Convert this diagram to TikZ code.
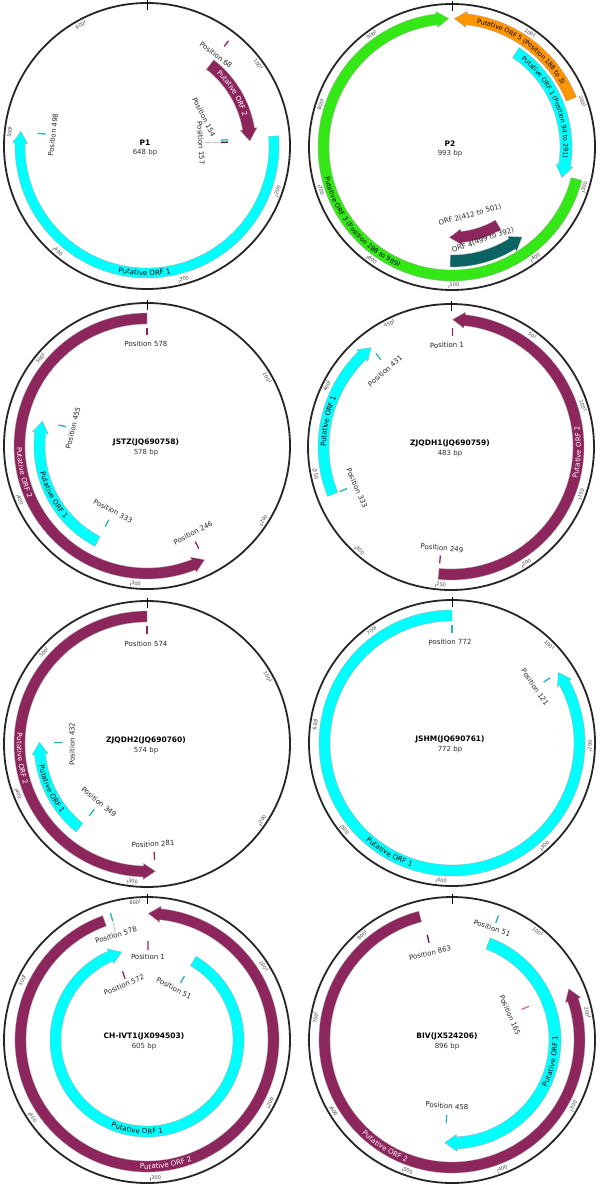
\documentclass[tikz,border=0pt]{standalone}
\usepackage{fontspec}
\setmainfont{DejaVu Sans}
\usetikzlibrary{decorations.text}
\definecolor{orfmag}{RGB}{142,38,94}
\definecolor{orfcyan}{RGB}{0,255,255}
\definecolor{orfgreen}{RGB}{51,232,20}
\definecolor{orforange}{RGB}{255,150,0}
\definecolor{orfteal}{RGB}{10,100,100}
\definecolor{tickcyan}{RGB}{40,180,180}
\definecolor{tickpink}{RGB}{210,110,150}
\definecolor{scalegray}{RGB}{70,70,70}
\newcommand\featfont{\fontsize{7}{8}\selectfont}
\newcommand\pfont{\fontsize{6.5}{7.5}\selectfont}
\tikzset{
  ring/.style={draw=black!85, line width=1.8pt},
  plabel/.style={font=\fontsize{7}{8}\selectfont, inner sep=0pt, text=black!85},
  scalelab/.style={font=\fontsize{5}{5}\selectfont, inner sep=0.6pt, text=scalegray},
  namelab/.style={font=\bfseries\fontsize{7.5}{9}\selectfont, inner sep=0pt},
  bplab/.style={font=\fontsize{7}{8}\selectfont, inner sep=0pt, text=black!80},
  feat/.style={draw=black!35, line width=0.3pt},
  leader/.style={draw=black!40, line width=0.4pt},
}
% feature arrow: L, start, tip, rin, rout, colour
\newcommand\feature[6]{%
  \pgfmathsetmacro\fta{90-(#2/#1)*360}%
  \pgfmathsetmacro\ftb{90-(#3/#1)*360}%
  \pgfmathsetmacro\ftm{(#4+#5)/2}%
  \pgfmathsetmacro\ftd{(#3>#2) ? 1 : -1}%
  \pgfmathsetmacro\fth{\ftb+\ftd*12/\ftm*57.2958}%
  \pgfmathsetmacro\fti{#4-2.5}%
  \pgfmathsetmacro\fto{#5+2.5}%
  \filldraw[feat, fill=#6] (\fta:#5) arc[start angle=\fta, end angle=\fth, radius=#5]
    -- (\fth:\fto) -- (\ftb:\ftm) -- (\fth:\fti) -- (\fth:#4)
    arc[start angle=\fth, end angle=\fta, radius=#4] -- cycle;
}
% feature label along arc: L, mid position, radius, colour, font, text
\newcommand\flab[6]{%
  \pgfmathsetmacro\flm{(#2/#1)*360}%
  \pgfmathtruncatemacro\flc{and(\flm>90,\flm<270)}%
  \pgfmathsetmacro\flt{90-\flm}%
  \ifnum\flc=1
    \pgfmathsetmacro\fls{\flt-80}\pgfmathsetmacro\fle{\flt+80}%
  \else
    \pgfmathsetmacro\fls{\flt+80}\pgfmathsetmacro\fle{\flt-80}%
  \fi
  \path[decorate, decoration={text along path, text align=center, raise=-2.5pt,
     text color=#4, text={|#5|#6}}] (\fls:#3) arc[start angle=\fls, end angle=\fle, radius=#3];
}
% scale marks: L, step, prefix
\newcommand\scalemarks[3]{%
  \pgfmathtruncatemacro\smn{floor((#1-1)/#2)}%
  \foreach \smk in {1,...,\smn}{%
    \pgfmathsetmacro\sma{(\smk*#2/#1)*360}%
    \pgfmathsetmacro\smt{90-\sma}%
    \pgfmathtruncatemacro\smv{\smk*#2}%
    \draw[scalegray, line width=0.4pt] (\smt:137.5) -- (\smt:141);
    \pgfmathtruncatemacro\smc{and(\sma>90,\sma<270)}%
    \ifnum\smc=1
      \node[scalelab, rotate=180-\sma, anchor=south west] (#3-s\smk) at (\smt:140.5) {\smv};
    \else
      \node[scalelab, rotate=-\sma, anchor=north east] (#3-s\smk) at (\smt:140.5) {\smv};
    \fi
  }%
}
% position label: name, dx, dy, text
\newcommand\plab[4]{%
  \pgfmathsetmacro\plt{atan2(#3,#2)}%
  \pgfmathsetmacro\plr{(#3>=0) ? \plt-90 : \plt+90}%
  \node[plabel, rotate=\plr] (#1) at (#2,#3) {#4};
}
% position tick: L, pos, r1, r2, colour
\newcommand\ptick[5]{%
  \pgfmathsetmacro\pta{90-(#2/#1)*360}%
  \draw[#5, line width=1.3pt] (\pta:#3) -- (\pta:#4);
}
% ring base: L, step, prefix, name, bp, dx
\newcommand\ringbase[6]{%
  \draw[ring] (0,0) circle[radius=143];
  \draw[black, line width=0.8pt] (90:136) -- (90:146);
  \scalemarks{#1}{#2}{#3}
  \node[namelab] (#3-name) at (#6,3.5) {#4};
  \node[bplab] (#3-bp) at (#6,-6.5) {#5 bp};
}
\begin{document}
\begin{tikzpicture}[x=1pt,y=1pt]
\useasboundingbox (0,0) rectangle (600,-1185);
\fill[white] (0,0) rectangle (600,-1185);

% ---------------- P1
\begin{scope}[shift={(147,-146)}]
\ringbase{648}{100}{pa}{P1}{648}{-2}
\feature{648}{154}{498}{122}{132}{orfcyan}
\feature{648}{68}{157}{97}{109}{orfmag}
\flab{648}{326}{127}{black}{\featfont}{Putative ORF 1}
\flab{648}{105}{103}{white}{\featfont}{Putative ORF 2}
\ptick{648}{68}{126}{133}{orfmag}
\ptick{648}{154}{74}{81}{tickcyan}
\ptick{648}{157}{74}{81}{orfmag!60!black}
\ptick{648}{498}{102}{110}{tickcyan}
\plab{pa-68}{69}{91}{Position 68}
\plab{pa-154}{57}{29}{Position 154}
\plab{pa-157}{54}{3}{Position 157}
\plab{pa-498}{-94}{11}{Position 498}
\coordinate (pa-t157) at (3:73);
\draw[leader] (pa-157.north) -- (pa-t157);
\end{scope}

% ---------------- P2
\begin{scope}[shift={(452,-147)}]
\ringbase{993}{100}{pb}{P2}{993}{-2}
\feature{993}{288}{989}{123}{134}{orfgreen}
\feature{993}{188}{3}{123}{134}{orforange}
\feature{993}{94}{291}{108}{120}{orfcyan}
\feature{993}{412}{501}{85}{96}{orfmag}
\feature{993}{499}{392}{108}{120}{orfteal}
\flab{993}{635}{128.5}{black}{\pfont}{Putative ORF 3 (Position 288 to 989)}
\flab{993}{99}{128.5}{black}{\pfont}{Putative ORF 5 (Position 188 to 3)}
\flab{993}{185}{114}{black}{\pfont}{Putative ORF 1 (Position 94 to 291)}
\plab{pb-orf2}{18}{-68}{ORF 2(412 to 501)}
\plab{pb-orf4}{31}{-93}{ORF 4(499 to 392)}
\end{scope}

% ---------------- JSTZ
\begin{scope}[shift={(147,-446)}]
\ringbase{578}{100}{pc}{JSTZ(JQ690758)}{578}{-1}
\feature{578}{578}{246}{122}{133}{orfmag}
\feature{578}{333}{455}{102}{113}{orfcyan}
\flab{578}{414}{127.5}{white}{\featfont}{Putative ORF 2}
\flab{578}{389}{107.5}{black}{\featfont}{Putative ORF 1}
\ptick{578}{0}{111}{118}{orfmag}
\ptick{578}{455}{83}{91}{tickcyan}
\ptick{578}{333}{83}{91}{tickcyan}
\ptick{578}{246}{107}{115}{orfmag}
\plab{pc-578}{-1}{102}{Position 578}
\plab{pc-455}{-74}{18}{Position 455}
\plab{pc-333}{-34}{-65}{Position 333}
\plab{pc-246}{46}{-87}{Position 246}
\end{scope}

% ---------------- ZJQDH1
\begin{scope}[shift={(451,-447)}]
\ringbase{483}{50}{pd}{ZJQDH1(JQ690759)}{483}{-1}
\feature{483}{249}{1}{122}{133}{orfmag}
\feature{483}{333}{431}{122}{133}{orfcyan}
\flab{483}{124}{127.5}{white}{\featfont}{Putative ORF 2}
\flab{483}{378}{127.5}{black}{\featfont}{Putative ORF 1}
\ptick{483}{1}{111}{119}{orfmag}
\ptick{483}{431}{112}{120}{tickcyan}
\ptick{483}{333}{112}{120}{tickcyan}
\ptick{483}{249}{109}{117}{orfmag}
\plab{pd-1}{-4}{102}{Position 1}
\plab{pd-431}{-66}{76}{Position 431}
\plab{pd-333}{-94}{-41}{Position 333}
\plab{pd-249}{-9}{-101}{Position 249}
\end{scope}

% ---------------- ZJQDH2
\begin{scope}[shift={(147,-744)}]
\ringbase{574}{100}{pe}{ZJQDH2(JQ690760)}{574}{-1}
\feature{574}{574}{281}{122}{133}{orfmag}
\feature{574}{349}{432}{102}{113}{orfcyan}
\flab{574}{420}{127.5}{white}{\featfont}{Putative ORF 2}
\flab{574}{390.5}{107.5}{black}{\featfont}{Putative ORF 1}
\ptick{574}{0}{110}{118}{orfmag}
\ptick{574}{432}{85}{93}{tickcyan}
\ptick{574}{349}{84}{92}{tickcyan}
\ptick{574}{281}{108}{116}{orfmag}
\plab{pe-574}{-1}{100}{Position 574}
\plab{pe-432}{-75}{0}{Position 432}
\plab{pe-349}{-48}{-58}{Position 349}
\plab{pe-281}{6}{-100}{Position 281}
\end{scope}

% ---------------- JSHM
\begin{scope}[shift={(452,-743)}]
\ringbase{772}{100}{pf}{JSHM(JQ690761)}{772}{-2}
\feature{772}{772}{121}{122}{133}{orfcyan}
\flab{772}{450}{127.5}{black}{\featfont}{Putative ORF 1}
\ptick{772}{0}{110}{118}{tickcyan}
\ptick{772}{121}{110}{118}{tickcyan}
\plab{pf-772}{-2}{101}{Position 772}
\plab{pf-121}{83}{56}{Position 121}
\end{scope}

% ---------------- CH-IVT1
\begin{scope}[shift={(147,-1040)}]
\ringbase{605}{100}{pg}{CH-IVT1(JX094503)}{605}{-3}
\feature{605}{572}{1}{121}{132}{orfmag}
\feature{605}{51}{578}{86}{97}{orfcyan}
\flab{605}{288}{126.5}{white}{\featfont}{Putative ORF 2}
\flab{605}{313}{91.5}{black}{\featfont}{Putative ORF 1}
\ptick{605}{578}{124}{132}{tickcyan}
\ptick{605}{1}{90}{99}{orfmag}
\ptick{605}{572}{65}{73}{orfmag}
\ptick{605}{51}{66}{74}{tickcyan}
\plab{pg-578}{-31}{105}{Position 578}
\plab{pg-1}{1}{83}{Position 1}
\plab{pg-572}{-23}{55}{Position 572}
\plab{pg-51}{27}{52}{Position 51}
\coordinate (pg-t578) at ({90-(578/605)*360}:124);
\draw[leader] (pg-578.north) -- (pg-t578);
\end{scope}

% ---------------- BIV
\begin{scope}[shift={(452,-1040)}]
\ringbase{896}{100}{ph}{BIV(JX524206)}{896}{-5}
\feature{896}{860}{165}{122}{133}{orfmag}
\feature{896}{51}{458}{97}{109}{orfcyan}
\flab{896}{528}{127.5}{white}{\featfont}{Putative ORF 2}
\flab{896}{254}{103}{black}{\featfont}{Putative ORF 1}
\ptick{896}{51}{125}{133}{tickcyan}
\ptick{896}{863}{100}{108}{orfmag!70!black}
\ptick{896}{165}{76}{84}{tickpink}
\ptick{896}{458}{75}{83}{tickcyan}
\plab{ph-51}{40}{112}{Position 51}
\plab{ph-863}{-22}{87}{Position 863}
\plab{ph-165}{58}{25}{Position 165}
\plab{ph-458}{-5}{-66}{Position 458}
\end{scope}
\end{tikzpicture}
\end{document}
